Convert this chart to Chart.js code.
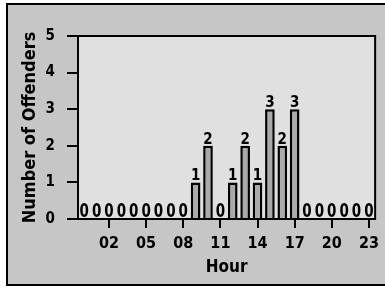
<!DOCTYPE html>
<html lang="en">
<head>
  <meta charset="UTF-8" />
  <title>Number of Offenders by Hour</title>
  <script src="https://cdn.jsdelivr.net/npm/chart.js"></script>
  <style>
    html, body {
      margin: 0;
      padding: 0;
      background: #ffffff;
    }
    .wrap {
      width: 385px;
      height: 293px;
      position: relative;
    }
  </style>
</head>
<body>
  <div class="wrap">
    <canvas id="hourChart" width="385" height="293"></canvas>
  </div>

  <script>
    // data
    const hours = ['00','01','02','03','04','05','06','07','08','09','10','11',
                   '12','13','14','15','16','17','18','19','20','21','22','23'];
    const offenders = [0,0,0,0,0,0,0,0,0,1,2,0,1,2,1,3,2,3,0,0,0,0,0,0];
    const shownHours = ['02','05','08','11','14','17','20','23'];
    const yTicks = [0, 1, 2, 3, 4, 5];

    const FONT = "'DejaVu Sans Condensed', 'DejaVu Sans', sans-serif";

    // frame, grey page and plot box
    const backdrop = {
      id: 'backdrop',
      beforeDraw(chart) {
        const c = chart.ctx, a = chart.chartArea;
        c.save();
        c.fillStyle = '#ffffff';
        c.fillRect(0, 0, chart.width, chart.height);
        c.fillStyle = '#c6c6c6';
        c.fillRect(7, 4, chart.width, 281);
        c.strokeStyle = '#000';
        c.lineWidth = 2;
        c.strokeRect(7, 4, chart.width + 10, 281);
        c.fillStyle = '#e0e0e0';
        c.fillRect(a.left, a.top, a.right - a.left, a.bottom - a.top);
        c.restore();
      },
      afterDatasetsDraw(chart) {
        const c = chart.ctx, a = chart.chartArea;
        c.save();
        c.strokeStyle = '#000';
        c.lineWidth = 2;
        c.strokeRect(a.left, a.top, a.right - a.left, a.bottom - a.top);
        c.restore();
      }
    };

    // value labels above each bar (the zeros are drawn taller, as in the scan)
    const valueLabels = {
      id: 'valueLabels',
      afterDatasetsDraw(chart) {
        const c = chart.ctx;
        const meta = chart.getDatasetMeta(0);
        c.save();
        c.fillStyle = '#000';
        c.textAlign = 'center';
        c.textBaseline = 'alphabetic';
        c.font = 'bold 15px ' + FONT;
        meta.data.forEach((bar, i) => {
          const v = offenders[i];
          c.save();
          c.translate(bar.x, bar.y - 2);
          if (v === 0) c.scale(1, 1.35);
          c.fillText(String(v), 0, 0);
          c.restore();
        });
        c.restore();
      }
    };

    new Chart(document.getElementById('hourChart'), {
      type: 'bar',
      data: {
        labels: hours,
        datasets: [{
          data: offenders,
          backgroundColor: '#aaaaaa',
          borderColor: '#000',
          borderWidth: 2.5,
          borderSkipped: 'bottom',
          barPercentage: 0.78,
          categoryPercentage: 1
        }]
      },
      options: {
        responsive: false,
        animation: false,
        layout: { padding: { left: 0, top: 36, right: 2, bottom: 0 } },
        plugins: {
          legend: { display: false },
          tooltip: { enabled: false }
        },
        scales: {
          x: {
            offset: true,
            border: { display: false },
            grid: {
              offset: false,
              drawOnChartArea: false,
              tickLength: 9,
              lineWidth: 2,
              color: ctx => shownHours.includes(hours[ctx.index]) ? '#000' : 'rgba(0,0,0,0)'
            },
            ticks: {
              autoSkip: false,
              maxRotation: 0,
              padding: 6,
              color: '#000',
              font: { family: FONT, size: 16, weight: 'bold' },
              callback: (v, i) => shownHours.includes(hours[i]) ? hours[i] : ''
            },
            title: {
              display: true,
              text: 'Hour',
              color: '#000',
              font: { family: FONT, size: 17, weight: 'bold' },
              padding: { top: 0, bottom: 15 }
            },
            afterFit: s => { s.height = 74; }
          },
          y: {
            min: 0,
            max: 5,
            border: { display: false },
            grid: {
              drawOnChartArea: false,
              tickLength: 11,
              lineWidth: 2,
              color: '#000'
            },
            afterBuildTicks: s => { s.ticks = yTicks.map(v => ({ value: v })); },
            ticks: {
              padding: 12,
              color: '#000',
              font: { family: FONT, size: 15, weight: 'bold' }
            },
            title: {
              display: true,
              text: 'Number of Offenders',
              color: '#000',
              font: { family: FONT, size: 18, weight: 'bold' },
              padding: { top: 20, bottom: 0 }
            },
            afterFit: s => { s.width = 78; }
          }
        }
      },
      plugins: [backdrop, valueLabels]
    });
  </script>
</body>
</html>
